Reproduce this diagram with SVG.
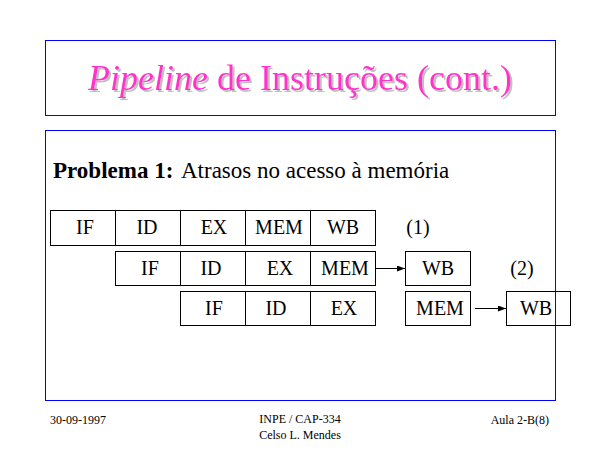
<svg xmlns="http://www.w3.org/2000/svg" width="600" height="450" viewBox="0 0 600 450">
<defs>
<style>
.frame{fill:none;stroke:#0000FF;stroke-width:1}
.cell{fill:none;stroke:#000;stroke-width:1}
.lbl{font-family:"Liberation Serif","Times New Roman",serif;font-size:20px;fill:#000;text-anchor:middle}
.title{font-family:"Liberation Serif","Times New Roman",serif;font-size:36px;text-anchor:middle}
.foot{font-family:"Liberation Serif","Times New Roman",serif;font-size:12px;fill:#000}
.body{font-family:"Liberation Serif","Times New Roman",serif;font-size:23px;fill:#000}
.conn{stroke:#000;stroke-width:1;fill:none}
</style>
<filter id="shadow" x="-5%" y="-20%" width="110%" height="150%">
<feOffset in="SourceAlpha" dx="2" dy="2" result="off"/>
<feFlood flood-color="#C0C0C0" result="gray"/>
<feComposite in="gray" in2="off" operator="in" result="sh"/>
<feMerge><feMergeNode in="sh"/><feMergeNode in="SourceGraphic"/></feMerge>
</filter>
<marker id="ah" markerWidth="8" markerHeight="6" refX="8" refY="3" orient="auto" markerUnits="userSpaceOnUse">
<path d="M0,0 L8,3 L0,6 Z" fill="#000"/>
</marker>
</defs>
<rect width="600" height="450" fill="#fff"/>
<g id="title">
<rect class="frame" x="45.5" y="40.5" width="510" height="75"/>
<text class="title" x="300" y="90" fill="#FF33CC" filter="url(#shadow)"><tspan font-style="italic">Pipeline</tspan> de Instruções (cont.)</text>
</g>
<g id="body">
<rect class="frame" x="45.5" y="130.5" width="510" height="270"/>
<text class="body" x="53" y="178" font-weight="bold">Problema 1:</text>
<text class="body" x="181" y="178">Atrasos no acesso à memória</text>
</g>
<g id="row1">
<rect class="cell" x="50.5" y="210.5" width="65" height="35"/>
<rect class="cell" x="115.5" y="210.5" width="65" height="35"/>
<rect class="cell" x="180.5" y="210.5" width="65" height="35"/>
<rect class="cell" x="245.5" y="210.5" width="65" height="35"/>
<rect class="cell" x="310.5" y="210.5" width="65" height="35"/>
<text class="lbl" x="85" y="234">IF</text>
<text class="lbl" x="147" y="234">ID</text>
<text class="lbl" x="214" y="234">EX</text>
<text class="lbl" x="279" y="234">MEM</text>
<text class="lbl" x="343" y="234">WB</text>
<text class="lbl" x="418" y="234">(1)</text>
</g>
<g id="row2">
<rect class="cell" x="115.5" y="251.5" width="65" height="34"/>
<rect class="cell" x="180.5" y="251.5" width="65" height="34"/>
<rect class="cell" x="245.5" y="251.5" width="65" height="34"/>
<rect class="cell" x="310.5" y="251.5" width="65" height="34"/>
<text class="lbl" x="150" y="275">IF</text>
<text class="lbl" x="211" y="275">ID</text>
<text class="lbl" x="280" y="275">EX</text>
<text class="lbl" x="345" y="275">MEM</text>
</g>
<g id="wb2">
<rect class="cell" x="405.5" y="251.5" width="65" height="34"/>
<text class="lbl" x="438" y="275">WB</text>
<text class="lbl" x="522" y="275">(2)</text>
</g>
<g id="row3">
<rect class="cell" x="180.5" y="291.5" width="65" height="34"/>
<rect class="cell" x="245.5" y="291.5" width="65" height="34"/>
<rect class="cell" x="310.5" y="291.5" width="65" height="34"/>
<text class="lbl" x="214" y="315">IF</text>
<text class="lbl" x="276" y="315">ID</text>
<text class="lbl" x="344" y="315">EX</text>
</g>
<g id="mem3">
<rect class="cell" x="405.5" y="291.5" width="65" height="34"/>
<text class="lbl" x="440" y="315">MEM</text>
</g>
<g id="wb3">
<rect class="cell" x="506.5" y="291.5" width="64" height="34"/>
<text class="lbl" x="536" y="315">WB</text>
</g>
<g id="connectors">
<line class="conn" x1="375.5" y1="268.5" x2="405" y2="268.5" marker-end="url(#ah)"/>
<line class="conn" x1="475" y1="308.5" x2="506" y2="308.5" marker-end="url(#ah)"/>
</g>
<g id="footer">
<text class="foot" x="50" y="424">30-09-1997</text>
<text class="foot" x="300" y="423" text-anchor="middle">INPE / CAP-334</text>
<text class="foot" x="300" y="439" text-anchor="middle">Celso L. Mendes</text>
<text class="foot" x="549" y="424" text-anchor="end">Aula 2-B(8)</text>
</g>
</svg>
